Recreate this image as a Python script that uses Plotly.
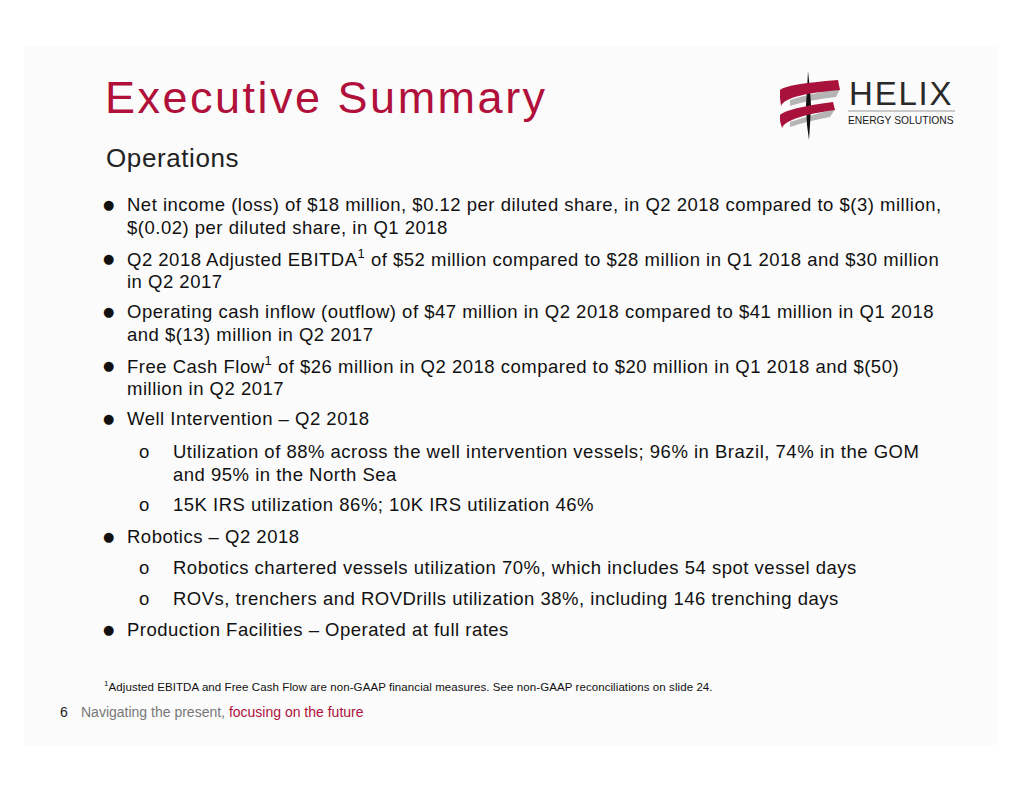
import plotly.graph_objects as go

W, H = 1024, 791
OFF = 8  # browser body margin
title_text = "Executive Summary"
subtitle_text = "Operations"

# (level, lines) ; level 0 = main bullet, 1 = sub bullet
bullets = [
    (0, ["Net income (loss) of $18 million, $0.12 per diluted share, in Q2 2018 compared to $(3) million,",
         "$(0.02) per diluted share, in Q1 2018"]),
    (0, ["Q2 2018 Adjusted EBITDA<sup>1</sup> of $52 million compared to $28 million in Q1 2018 and $30 million",
         "in Q2 2017"]),
    (0, ["Operating cash inflow (outflow) of $47 million in Q2 2018 compared to $41 million in Q1 2018",
         "and $(13) million in Q2 2017"]),
    (0, ["Free Cash Flow<sup>1</sup> of $26 million in Q2 2018 compared to $20 million in Q1 2018 and $(50)",
         "million in Q2 2017"]),
    (0, ["Well Intervention – Q2 2018"]),
    (1, ["Utilization of 88% across the well intervention vessels; 96% in Brazil, 74% in the GOM",
         "and 95% in the North Sea"]),
    (1, ["15K IRS utilization 86%; 10K IRS utilization 46%"]),
    (0, ["Robotics – Q2 2018"]),
    (1, ["Robotics chartered vessels utilization 70%, which includes 54 spot vessel days"]),
    (1, ["ROVs, trenchers and ROVDrills utilization 38%, including 146 trenching days"]),
    (0, ["Production Facilities – Operated at full rates"]),
]
bullet_y = [204, 258, 311, 365, 418, 451, 504, 536, 567, 598, 629]
footnote = "<sup>1</sup>Adjusted EBITDA and Free Cash Flow are non-GAAP financial measures. See non-GAAP reconciliations on slide 24."
page_num = "6"
footer_a = "Navigating the present, "
footer_b = "focusing on the future"

RED = "#B0103A"
TXT = "#111111"
FONT = "Liberation Sans, Arial, sans-serif"


def ls(text, px):
    return f"<span style='letter-spacing:{px}px'>{text}</span>"


fig = go.Figure()
fig.add_trace(go.Scatter(x=[OFF, W - OFF], y=[OFF, H - OFF], mode="markers", marker=dict(opacity=0),
                         hoverinfo="skip", showlegend=False))

shapes = []
ann = []
# slide background panel
shapes.append(dict(type="rect", x0=24, y0=45, x1=998, y1=745, fillcolor="#FBFBFB", line=dict(width=0), layer="below"))

ann.append(dict(x=103, y=97, text=ls(title_text, 2.5), xanchor="left", yanchor="middle",
                font=dict(family=FONT, size=45, color=RED)))
ann.append(dict(x=104, y=158, text=ls(subtitle_text, 0.6), xanchor="left", yanchor="middle",
                font=dict(family=FONT, size=26, color="#222222")))

LINE_GAP = 23
for (lvl, lines), y in zip(bullets, bullet_y):
    if lvl == 0:
        ann.append(dict(x=101, y=y, text="●", xanchor="left", yanchor="middle",
                        font=dict(family="DejaVu Sans, sans-serif", size=13, color=TXT)))
        tx = 125
    else:
        ann.append(dict(x=137, y=y, text="o", xanchor="left", yanchor="middle",
                        font=dict(family=FONT, size=18.5, color=TXT)))
        tx = 171
    for i, ln in enumerate(lines):
        ann.append(dict(x=tx, y=y + i * LINE_GAP, text=ls(ln, 0.5), xanchor="left", yanchor="middle",
                        font=dict(family=FONT, size=18.5, color=TXT)))

ann.append(dict(x=102, y=686, text=ls(footnote, 0.08), xanchor="left", yanchor="middle",
                font=dict(family=FONT, size=11.5, color=TXT)))
ann.append(dict(x=58, y=712, text=page_num, xanchor="left", yanchor="middle",
                font=dict(family=FONT, size=14, color="#222222")))
ann.append(dict(x=79, y=712, text=footer_a + f"<span style='color:{RED}'>{footer_b}</span>",
                xanchor="left", yanchor="middle",
                font=dict(family=FONT, size=14, color="#777777")))

# Logo
ann.append(dict(x=847, y=93, text=ls("HELIX", 1.8), xanchor="left", yanchor="middle",
                font=dict(family=FONT, size=33, color="#2A2A2A")))
shapes.append(dict(type="line", x0=848, x1=955, y0=111, y1=111, line=dict(color="#9A9A9A", width=1.2)))
ann.append(dict(x=846, y=120, text="ENERGY SOLUTIONS", xanchor="left", yanchor="middle",
                font=dict(family=FONT, size=10.3, color="#1A1A1A")))
# ribbon (gray underside parts)
shapes.append(dict(type="path", path="M 790 100 Q 808 94 840 89 L 836 97 Q 808 100 790 106 Z",
                   fillcolor="#B5B5B5", line=dict(width=0)))
shapes.append(dict(type="path", path="M 790 122 Q 808 116 835 109 L 830 117 Q 808 121 790 127 Z",
                   fillcolor="#B5B5B5", line=dict(width=0)))
# black vertical stem
shapes.append(dict(type="path", path="M 808 71 L 810 90 L 811 105 L 810 125 L 809 140 L 807 125 L 806 105 L 807 90 Z",
                   fillcolor="#111111", line=dict(width=0)))
# red ribbons
shapes.append(dict(type="path",
                   path="M 780 90 Q 786 84 838 80 L 840 90 Q 805 93 792 98 Q 783 101 781 106 L 780 98 Z",
                   fillcolor="#A8123A", line=dict(width=0)))
shapes.append(dict(type="path",
                   path="M 780 115 Q 787 108 833 102 L 835 110 Q 805 114 792 120 Q 784 123 782 128 L 780 121 Z",
                   fillcolor="#A8123A", line=dict(width=0)))

for a in ann:
    a.update(xref="x", yref="y", showarrow=False)

fig.update_layout(
    width=W - 2 * OFF, height=H - 2 * OFF, margin=dict(l=0, r=0, t=0, b=0),
    paper_bgcolor="white", plot_bgcolor="white",
    xaxis=dict(range=[OFF, W - OFF], visible=False, fixedrange=True),
    yaxis=dict(range=[H - OFF, OFF], visible=False, fixedrange=True),
    shapes=shapes, annotations=ann, showlegend=False,
)
fig.write_html("out.html", config={"displayModeBar": False})
